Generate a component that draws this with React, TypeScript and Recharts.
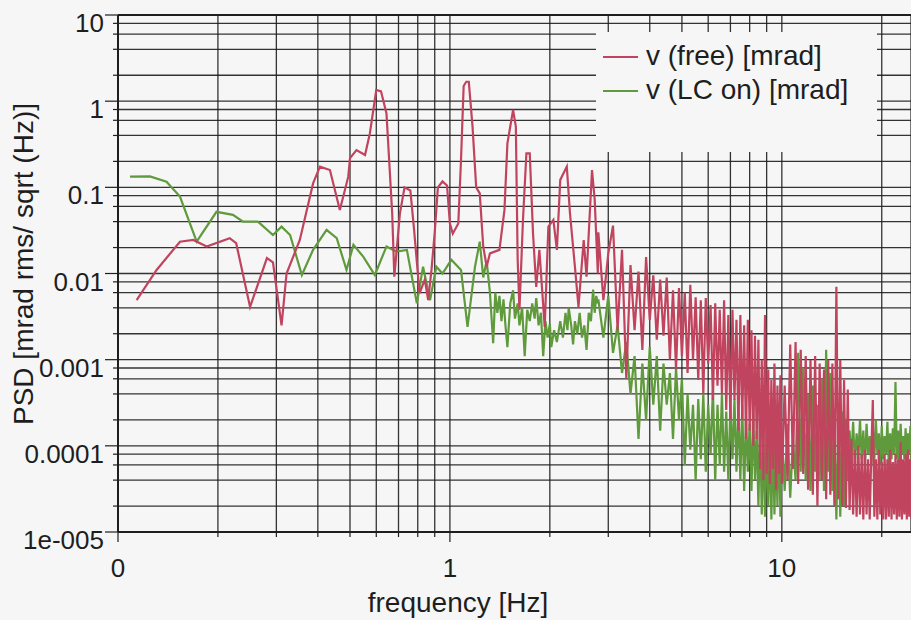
import { CartesianGrid, Legend, Line, LineChart, ReferenceLine, XAxis, YAxis } from "recharts"

// v (free) below 2.8 Hz, read peak by peak
const freeFreq = [
  0.1138, 0.1307, 0.1537, 0.1686, 0.185, 0.217, 0.227, 0.25, 0.281, 0.293, 0.311, 0.322, 0.353, 0.387,
  0.406, 0.435, 0.466, 0.494, 0.5, 0.523, 0.555, 0.574, 0.6, 0.62, 0.644, 0.67, 0.68, 0.707, 0.73, 0.76,
  0.78, 0.81, 0.84, 0.86, 0.88, 0.9, 0.92, 0.95, 0.98, 1.0, 1.02, 1.06, 1.08, 1.1, 1.12, 1.14, 1.17, 1.2,
  1.23, 1.26, 1.29, 1.32, 1.41, 1.46, 1.49, 1.55, 1.58, 1.6, 1.62, 1.66, 1.7, 1.74, 1.78, 1.82, 1.86,
  1.93, 1.98, 2.05, 2.1, 2.15, 2.25, 2.3, 2.38, 2.44, 2.53, 2.58, 2.68, 2.73, 2.79,
]
const freeVal = [
  0.0049, 0.011, 0.0234, 0.0245, 0.0206, 0.0257, 0.0225, 0.0041, 0.0151, 0.0135, 0.0025, 0.01, 0.0245, 0.111,
  0.174, 0.159, 0.0547, 0.133, 0.218, 0.27, 0.237, 0.425, 1.35, 1.3, 0.72, 0.05, 0.0092, 0.05, 0.1, 0.092,
  0.032, 0.0059, 0.0085, 0.0049, 0.011, 0.03, 0.1, 0.117, 0.105, 0.038, 0.029, 0.038, 0.208, 1.5, 1.68, 1.68, 0.506, 0.1,
  0.085, 0.0206, 0.012, 0.0171, 0.0188, 0.0547, 0.324, 0.79, 0.506, 0.0144, 0.0038, 0.042, 0.248, 0.248, 0.029, 0.007, 0.0188,
  0.0024, 0.035, 0.042, 0.0188, 0.122, 0.174, 0.05, 0.012, 0.0041, 0.0245, 0.0092, 0.159, 0.0722, 0.01,
]

// v (LC on) below 2.8 Hz
const lcFreq = [
  0.1087, 0.1248, 0.14, 0.1537, 0.1726, 0.198, 0.222, 0.238, 0.264, 0.293, 0.311, 0.33, 0.358, 0.387,
  0.425, 0.456, 0.488, 0.512, 0.548, 0.594, 0.644, 0.69, 0.742, 0.795, 0.83, 0.871, 0.91, 0.95, 1.01,
  1.08, 1.13, 1.19, 1.23, 1.26, 1.29, 1.32, 1.35, 1.37, 1.39, 1.41, 1.43, 1.45, 1.47, 1.49, 1.52, 1.55,
  1.57, 1.6, 1.62, 1.65, 1.68, 1.71, 1.74, 1.77, 1.8, 1.82, 1.85, 1.88, 1.91, 1.94, 1.97, 2.0, 2.02,
  2.06, 2.1, 2.15, 2.19, 2.23, 2.26, 2.28, 2.32, 2.35, 2.38, 2.42, 2.46, 2.5, 2.54, 2.58, 2.62, 2.66,
  2.7, 2.73, 2.76, 2.79,
]
const lcVal = [
  0.133, 0.134, 0.116, 0.078, 0.0234, 0.052, 0.048, 0.04, 0.04, 0.028, 0.035, 0.028, 0.0096, 0.0188,
  0.032, 0.0257, 0.011, 0.0215, 0.0157, 0.0096, 0.0206, 0.018, 0.0188, 0.0045, 0.012, 0.0049, 0.012, 0.01, 0.0144,
  0.011, 0.0024, 0.012, 0.0234, 0.009, 0.014, 0.006, 0.00155, 0.006, 0.0035, 0.0055, 0.0028, 0.005, 0.0025, 0.0014, 0.0045, 0.0064,
  0.003, 0.0045, 0.0025, 0.004, 0.0011, 0.0038, 0.0028, 0.0045, 0.003, 0.0052, 0.0025, 0.0035, 0.0011, 0.0028, 0.0018, 0.0026, 0.0014,
  0.0022, 0.0016, 0.0028, 0.0018, 0.0035, 0.0022, 0.004, 0.0025, 0.0015, 0.0028, 0.002, 0.0035, 0.0018, 0.0025, 0.0013, 0.0035, 0.0028,
  0.0065, 0.0035, 0.0055, 0.0045,
]

// noisy part, shared frequency bins
const denseFreq = [
  2.8, 2.9, 3.0, 3.1, 3.2, 3.3, 3.4, 3.5, 3.6, 3.7, 3.8, 3.9, 4.0, 4.1, 4.2, 4.3, 4.4, 4.5, 4.6, 4.7,
  4.8, 4.9, 5.0, 5.1, 5.2, 5.3, 5.4, 5.5, 5.6, 5.7, 5.8, 5.9, 6.0, 6.1, 6.2, 6.3, 6.4, 6.5, 6.6, 6.7,
  6.8, 6.9, 7.0, 7.1, 7.2, 7.3, 7.4, 7.5, 7.6, 7.7, 7.8, 7.9, 8.0, 8.1, 8.2, 8.3, 8.4, 8.5, 8.6, 8.7,
  8.8, 8.9, 9.0, 9.1, 9.2, 9.3, 9.4, 9.5, 9.6, 9.7, 9.8, 9.9, 10.0,
  10.2, 10.4, 10.6, 10.8, 11.0, 11.2, 11.4, 11.6, 11.8, 12.0, 12.2, 12.4, 12.6, 12.8, 13.0, 13.2, 13.4,
  13.6, 13.8, 14.0, 14.2, 14.4, 14.6, 14.8, 15.0, 15.2, 15.4, 15.6, 15.8, 16.0, 16.2, 16.4, 16.6, 16.8,
  17.0, 17.2, 17.4, 17.6, 17.8, 18.0, 18.2, 18.4, 18.6, 18.8, 19.0, 19.2, 19.4, 19.6, 19.8, 20.0, 20.2,
  20.4, 20.6, 20.8, 21.0, 21.2, 21.4, 21.6, 21.8, 22.0, 22.2, 22.4, 22.6, 22.8, 23.0, 23.2, 23.4, 23.6,
  23.8, 24.0, 24.2, 24.4, 24.6, 24.8, 25.0,
]
const freeDense = [
  0.03, 0.0049, 0.017, 0.036, 0.0022, 0.0188, 0.0006, 0.0125, 0.0022, 0.0105, 0.0013, 0.0155, 0.0029, 0.0095, 0.0017, 0.0085, 0.0019, 0.009, 0.001, 0.0064,
  0.00077, 0.0068, 0.0011, 0.006, 0.0007, 0.0074, 0.001, 0.0053, 0.00058, 0.0049, 0.0004, 0.0052, 0.0009, 0.0043, 0.00034, 0.0045, 0.0005, 0.0038, 0.0004, 0.0049,
  0.00026, 0.0033, 0.0002, 0.0038, 0.00034, 0.0029, 0.00015, 0.0033, 0.0002, 0.0025, 0.00012, 0.0029, 0.00015, 0.0022, 0.0001, 0.0019, 0.00012, 0.0017, 0.000054, 0.001,
  0.00004, 0.0033, 0.000047, 0.00077, 0.000036, 0.00058, 0.000054, 0.0009, 0.000031, 0.0005, 0.000047, 0.00066, 0.000036,
  0.0005, 0.00004, 0.0015, 0.000054, 0.0016, 0.000036, 0.0013, 0.000047, 0.0011, 0.000031, 0.001, 0.000027, 0.0011, 0.00002, 0.0009, 0.00004, 0.00077,
  0.000024, 0.001, 0.000027, 0.0009, 0.00002, 0.007, 0.000024, 0.001, 0.00002, 0.00058, 0.000019, 0.00045, 0.000018, 0.00012, 0.000016, 0.00009, 0.000015,
  0.0001, 0.000016, 0.00008, 0.000014, 0.00009, 0.000016, 0.00007, 0.000014, 0.00008, 0.00034, 0.000015, 0.00007, 0.000014, 0.00009, 0.000016, 0.000065, 0.000014,
  0.00008, 0.000014, 0.00007, 0.000015, 0.00009, 0.000014, 0.000065, 0.000016, 0.00008, 0.000014, 0.00007, 0.000015, 0.00011, 0.000014, 0.00007, 0.000016, 0.00008,
  0.000014, 0.00009, 0.000015, 0.00007, 0.000014, 0.00008, 0.000015,
]
const lcDense = [
  0.005, 0.0018, 0.0055, 0.0012, 0.0025, 0.0007, 0.0016, 0.0004, 0.0011, 0.00012, 0.0009, 0.0002, 0.0014, 0.0003, 0.0011, 0.00015, 0.0009, 0.0003, 0.0007, 0.00012,
  0.0008, 0.0002, 0.0006, 0.00006, 0.0004, 0.00009, 0.0003, 0.00004, 0.00035, 0.00007, 0.0004, 0.00005, 0.0003, 0.00008, 0.00045, 0.00004, 0.0003, 0.00006, 0.0004, 0.00005,
  0.00025, 0.00004, 0.0003, 0.00007, 0.00035, 0.00005, 0.00028, 0.00004, 0.0003, 0.00003, 0.00022, 0.00005, 0.00018, 0.00003, 0.00024, 0.00004, 0.00015, 0.00002, 0.0002, 0.000016,
  0.00013, 0.000015, 0.00018, 0.00002, 0.00014, 0.000014, 0.00017, 0.000016, 0.00012, 0.00002, 0.00022, 0.000015, 0.00014,
  0.00003, 0.00018, 0.000025, 0.00012, 0.00004, 0.0012, 0.00005, 0.0008, 0.00004, 0.0004, 0.00003, 0.0005, 0.00005, 0.0003, 0.00004, 0.0006, 0.00003,
  0.0013, 0.00005, 0.0007, 0.00003, 0.00014, 0.000014, 0.0002, 0.000015, 0.00025, 0.00002, 0.0002, 0.00004, 0.00015, 0.00007, 0.00019, 0.00006, 0.00014,
  0.00008, 0.0002, 0.00007, 0.00015, 0.00006, 0.00018, 0.00008, 0.00013, 0.00006, 0.00016, 0.00007, 0.0002, 0.00008, 0.00014, 0.00006, 0.00017, 0.00007,
  0.00013, 0.00008, 0.00019, 0.00006, 0.00014, 0.00007, 0.00016, 0.00008, 0.00055, 0.00007, 0.00015, 0.00006, 0.00018, 0.00008, 0.00013, 0.00007, 0.00016,
  0.00006, 0.00014, 0.00008, 0.00017, 0.00007, 0.00013, 0.00008,
]

const xTicks = [0.1, 0.2, 0.3, 0.4, 0.5, 0.6, 0.7, 0.8, 0.9, 1, 2, 3, 4, 5, 6, 7, 8, 9, 10, 20]
const xTickLabels = ["0", "", "", "", "", "", "", "", "", "1", "", "", "", "", "", "", "", "", "10", ""]
const yTicks = [
  1e-5, 2e-5, 4e-5, 6e-5, 8e-5, 1e-4, 2e-4, 4e-4, 6e-4, 8e-4, 0.001, 0.002, 0.004, 0.006, 0.008,
  0.01, 0.02, 0.04, 0.06, 0.08, 0.1, 0.2, 0.4, 0.6, 0.8, 1, 2, 4, 6, 8, 10,
]
const yTickLabels = [
  "1e-005", "", "", "", "", "0.0001", "", "", "", "", "0.001", "", "", "", "",
  "0.01", "", "", "", "", "0.1", "", "", "", "", "1", "", "", "", "", "10",
]

const seriesNames = ["v (free) [mrad]", "v (LC on) [mrad]"]
const RED = "#c1445f"
const GREEN = "#5f9a3c"
const INK = "#1e1e1e"
const BG = "#f6f6f6"
const FONT = "'Liberation Sans', Arial, Helvetica, sans-serif"

const freeData = [
  ...freeFreq.map((f, i) => ({ f, v: freeVal[i] })),
  ...denseFreq.map((f, i) => ({ f, v: freeDense[i] })),
]
const lcData = [
  ...lcFreq.map((f, i) => ({ f, v: lcVal[i] })),
  ...denseFreq.map((f, i) => ({ f, v: lcDense[i] })),
]

function YTick(props: any) {
  const { x, y, payload } = props
  const label = yTickLabels[yTicks.indexOf(payload.value)]
  const major = label !== ""
  return (
    <g>
      <line x1={x - (major ? 13 : 5)} x2={x} y1={y} y2={y} stroke={INK} strokeWidth={1.2} />
      {major && (
        <text x={x - 14} y={y + 17} textAnchor="end" fontSize={26} fontFamily={FONT} fill={INK}>
          {label}
        </text>
      )}
    </g>
  )
}

function XTick(props: any) {
  const { x, y, payload } = props
  const label = xTickLabels[xTicks.indexOf(payload.value)]
  const major = label !== ""
  return (
    <g>
      <line x1={x} x2={x} y1={y} y2={y + (major ? 10 : 5)} stroke={INK} strokeWidth={1.2} />
      {major && (
        <text x={x} y={y + 45} textAnchor="middle" fontSize={26} fontFamily={FONT} fill={INK}>
          {label}
        </text>
      )}
    </g>
  )
}

function LegendBox() {
  const colors = [RED, GREEN]
  return (
    <svg width={281} height={120} style={{ display: "block" }}>
      {seriesNames.map((name, i) => (
        <g key={name}>
          <line x1={7} x2={42} y1={25 + i * 34} y2={25 + i * 34} stroke={colors[i]} strokeWidth={2} />
          <text x={50} y={33 + i * 34} fontSize={28} fontFamily={FONT} fill={INK}>
            {name}
          </text>
        </g>
      ))}
    </svg>
  )
}

export default function App() {
  return (
    <div style={{ position: "absolute", left: 0, top: 0, width: 911, height: 620, background: BG, fontFamily: FONT }}>
      <LineChart width={911} height={620} margin={{ top: 15, right: 0, bottom: 0, left: 0 }}>
        <CartesianGrid stroke={INK} strokeWidth={1.3} strokeOpacity={0.9} />
        <XAxis
          dataKey="f"
          type="number"
          scale="log"
          domain={[0.1, 24.5]}
          allowDataOverflow
          ticks={xTicks}
          interval={0}
          tickSize={0}
          tickMargin={0}
          tick={<XTick />}
          height={88}
          axisLine={{ stroke: INK, strokeWidth: 2 }}
          label={{
            content: (p: any) => (
              <text x={p.viewBox.x + 340} y={p.viewBox.y + p.viewBox.height - 8} textAnchor="middle" fontSize={28} fontFamily={FONT} fill={INK}>
                frequency [Hz]
              </text>
            ),
          }}
        />
        <YAxis
          type="number"
          scale="log"
          domain={[1e-5, 10]}
          allowDataOverflow
          ticks={yTicks}
          interval={0}
          tickSize={0}
          tickMargin={0}
          tick={<YTick />}
          width={118}
          axisLine={{ stroke: INK, strokeWidth: 2 }}
          label={{
            content: () => (
              <text x={23} y={264} transform="rotate(-90, 23, 264)" textAnchor="middle" dominantBaseline="central" fontSize={28} fontFamily={FONT} fill={INK}>
                PSD [mrad rms/ sqrt (Hz)]
              </text>
            ),
          }}
        />
        <ReferenceLine y={10} stroke={INK} strokeWidth={2} />
        <Line data={lcData} dataKey="v" type="linear" stroke={GREEN} strokeWidth={2.2} dot={false} isAnimationActive={false} />
        <Line data={freeData} dataKey="v" type="linear" stroke={RED} strokeWidth={2.2} dot={false} isAnimationActive={false} />
        <Legend
          layout="vertical"
          align="center"
          verticalAlign="middle"
          wrapperStyle={{ left: 596, top: 32, width: 281, height: 120, background: BG }}
          content={() => <LegendBox />}
        />
      </LineChart>
    </div>
  )
}
